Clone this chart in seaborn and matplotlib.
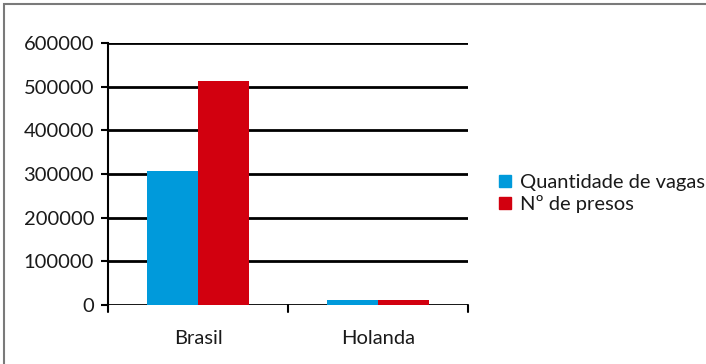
import matplotlib
matplotlib.use("Agg")
import matplotlib.pyplot as plt
from matplotlib.patches import Rectangle
from matplotlib.lines import Line2D
import seaborn as sns
import pandas as pd

paises = ["Brasil", "Holanda"]
series = ["Quantidade de vagas", "Nº de presos"]
vagas = [306000, 12000]
presos = [514000, 12000]
yticks = [0, 100000, 200000, 300000, 400000, 500000, 600000]
cores = ["#009ADB", "#D2000F"]

df = pd.DataFrame({
    "pais": paises * 2,
    "serie": [series[0]] * 2 + [series[1]] * 2,
    "valor": vagas + presos,
})

sns.set_theme(style="white")
plt.rcParams["font.family"] = ["Lato", "DejaVu Sans"]
fs = 14.5

fig = plt.figure(figsize=(7.06, 3.64), dpi=100)
ax = fig.add_axes([108 / 706, 1 - 305 / 364, 360 / 706, 262 / 364])

sns.barplot(data=df, x="pais", y="valor", hue="serie", hue_order=series,
            palette=cores, width=0.57, saturation=1, ax=ax, legend=False,
            zorder=3, linewidth=0)

ax.set_ylim(0, 600000)
ax.set_xlim(-0.5, 1.5)
ax.set_yticks(yticks)
ax.set_yticklabels([str(v) for v in yticks])
ax.set_xlabel("")
ax.set_ylabel("")

for v in yticks:
    ax.axhline(v, color="black", lw=2.0, zorder=1)

for side in ["top", "right"]:
    ax.spines[side].set_visible(False)
ax.spines["left"].set_color("black")
ax.spines["left"].set_linewidth(1.5)
ax.spines["bottom"].set_visible(False)

ax.tick_params(axis="y", length=5, width=1.5, color="black", direction="out",
               left=True, labelsize=fs, pad=5, labelcolor="#1a1a1a")
ax.set_xticks([0, 1])
ax.set_xticklabels(paises)
ax.tick_params(axis="x", bottom=False, labelsize=fs, pad=12, labelcolor="#1a1a1a")
# category separator ticks below the baseline
for xb in [-0.5, 0.5, 1.5]:
    ax.plot([xb, xb], [0, -0.025], transform=ax.get_xaxis_transform(),
            color="black", lw=1.5, clip_on=False, zorder=4)

handles = [Line2D([0], [0], marker="s", color="none", markerfacecolor=c,
                  markeredgecolor=c, markersize=8) for c in cores]
fig.legend(handles, series, loc="upper left",
           bbox_to_anchor=(490 / 706, 1 - 166 / 364), frameon=False,
           fontsize=fs, handlelength=0.7, handletextpad=0.4,
           labelspacing=0.2, borderaxespad=0, labelcolor="#1a1a1a")

# outer chart frame
fig.patches.append(Rectangle((4 / 706, -0.1), 1.2, 1 - 4 / 364 + 0.1,
                             transform=fig.transFigure, fill=False,
                             edgecolor="#7a7a7a", lw=1.5))

fig.savefig("out.png", dpi=100)
